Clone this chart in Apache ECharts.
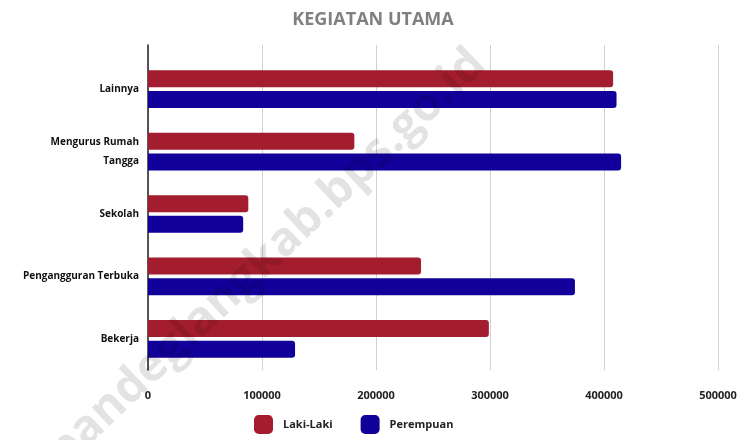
<!DOCTYPE html>
<html>
<head>
<meta charset="utf-8">
<script src="https://cdn.jsdelivr.net/npm/echarts@6/dist/echarts.min.js"></script>
<style>
  html, body { margin: 0; padding: 0; background: #fff; }
  #chart { width: 746px; height: 440px; }
</style>
</head>
<body>
<div id="chart"></div>
<script>
// data (bottom to top as drawn)
const categories = ["Bekerja", "Pengangguran Terbuka", "Sekolah", "Mengurus Rumah\nTangga", "Lainnya"];
const lakiLaki = [299000, 239500, 88000, 181000, 408000];
const perempuan = [129000, 374500, 83500, 415000, 411000];
const xTicks = { min: 0, max: 500000, interval: 100000 };

const chart = echarts.init(document.getElementById("chart"));
const font = "Open Sans";

const option = {
    title: {
        text: "KEGIATAN UTAMA",
        left: "center",
        top: 6,
        textStyle: { color: "#808080", fontSize: 18, fontWeight: "bold", fontFamily: font }
    },
    legend: {
        data: ["Laki-Laki", "Perempuan"],
        left: 249,
        bottom: 1,
        itemWidth: 19,
        itemHeight: 19,
        itemGap: 28,
        icon: "roundRect",
        textStyle: { color: "#222", fontSize: 11, fontFamily: font, fontWeight: "bold", padding: [0, 0, 0, 5] }
    },
    graphic: [{
        type: "text",
        z: 100,
        x: 267,
        y: 258,
        rotation: 43.5 * Math.PI / 180,
        silent: true,
        style: {
            text: "pandeglangkab.bps.go.id",
            fill: "rgba(0,0,0,0.11)",
            font: "bold 47px 'Open Sans'",
            align: "center",
            verticalAlign: "middle"
        }
    }],
    grid: [
        // gridlines and axes span a bit higher than the bars
        { left: 148, right: 28, top: 45, bottom: 70 },
        { left: 148, right: 28, top: 58, bottom: 70 }
    ],
    xAxis: [{
        gridIndex: 0,
        type: "value",
        min: xTicks.min, max: xTicks.max, interval: xTicks.interval,
        axisLine: { show: false },
        axisTick: { show: false },
        splitLine: { lineStyle: { color: "#d0d0d0", width: 1 } },
        axisLabel: {
            color: "#222", fontSize: 11, fontFamily: font, fontWeight: "bold", margin: 20,
            formatter: (v) => String(v)
        }
    }, {
        gridIndex: 1,
        type: "value",
        min: xTicks.min, max: xTicks.max,
        show: false
    }],
    yAxis: [{
        gridIndex: 0,
        type: "category",
        data: [""],
        axisLine: { show: true, lineStyle: { color: "#222", width: 1.5 } },
        axisTick: { show: false },
        axisLabel: { show: false }
    }, {
        gridIndex: 1,
        type: "category",
        data: categories,
        axisLine: { show: false },
        axisTick: { show: false },
        axisLabel: {
            color: "#111", fontSize: 10, fontFamily: font, fontWeight: "bold",
            margin: 9, lineHeight: 19, align: "right"
        }
    }],
    series: [{
        name: "Laki-Laki",
        type: "bar",
        xAxisIndex: 1,
        yAxisIndex: 1,
        data: lakiLaki,
        barWidth: 17,
        barGap: "22%",
        itemStyle: { color: "#a31d2e", borderRadius: [0, 3, 3, 0] }
    }, {
        name: "Perempuan",
        type: "bar",
        xAxisIndex: 1,
        yAxisIndex: 1,
        data: perempuan,
        barWidth: 17,
        itemStyle: { color: "#12009a", borderRadius: [0, 3, 3, 0] }
    }]
};

chart.setOption(option);
</script>
</body>
</html>
